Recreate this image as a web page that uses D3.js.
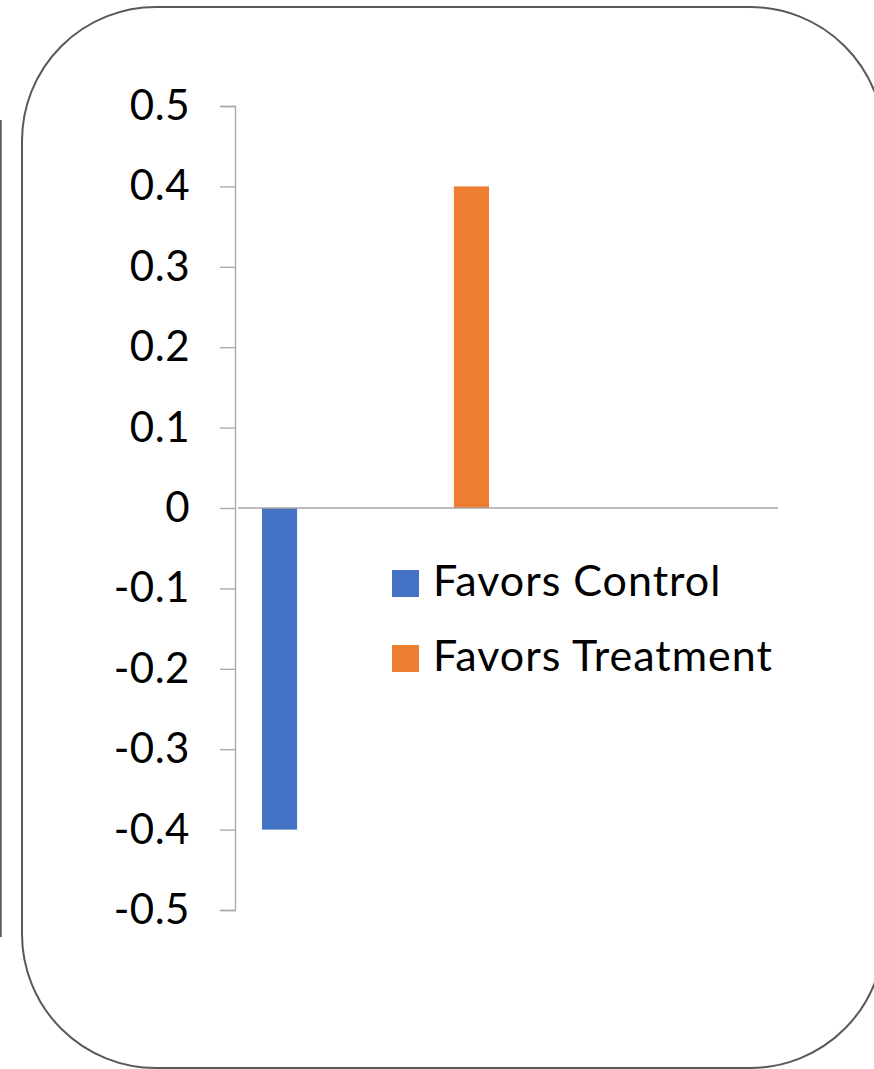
<!DOCTYPE html>
<html>
<head>
<meta charset="utf-8">
<script src="https://cdn.jsdelivr.net/npm/d3@7"></script>
<style>
  html, body { margin: 0; padding: 0; background: #fff; }
  svg { display: block; }
</style>
</head>
<body>
<svg id="chart" width="874" height="1069"></svg>
<script>
// Series and axis values
const categories = ["Favors Control", "Favors Treatment"];
const values = [-0.4, 0.4];
const colors = ["#4472C4", "#ED7D31"];
const tickValues = [0.5, 0.4, 0.3, 0.2, 0.1, 0, -0.1, -0.2, -0.3, -0.4, -0.5];
const tickLabels = ["0.5", "0.4", "0.3", "0.2", "0.1", "0", "-0.1", "-0.2", "-0.3", "-0.4", "-0.5"];

const svg = d3.select("#chart");
const font = "Lato, 'Open Sans', sans-serif";

// Neighbouring panel edge at the far left
svg.append("line")
  .attr("x1", 0.8).attr("x2", 0.8)
  .attr("y1", 120).attr("y2", 937)
  .attr("stroke", "#595959").attr("stroke-width", 1.8);

// Rounded frame around the chart
svg.append("rect")
  .attr("x", 22).attr("y", 7)
  .attr("width", 862).attr("height", 1061)
  .attr("rx", 134).attr("ry", 134)
  .attr("fill", "none")
  .attr("stroke", "#595959")
  .attr("stroke-width", 2);

// Plot area
const plot = { left: 235, right: 778, top: 106, bottom: 910 };

const y = d3.scaleLinear()
  .domain([-0.5, 0.5])
  .range([plot.bottom, plot.top]);

const x = d3.scaleBand()
  .domain(categories)
  .range([262, 489])
  .paddingInner(0.817)
  .paddingOuter(0);

// Value axis
const yAxis = d3.axisLeft(y)
  .tickValues(tickValues)
  .tickSize(15)
  .tickPadding(30)
  .tickFormat((d, i) => tickLabels[i]);

const axisG = svg.append("g")
  .attr("transform", `translate(${plot.left},0)`)
  .call(yAxis);
axisG.select(".domain")
  .attr("stroke", "#a6a6a6").attr("stroke-width", 1.3);
axisG.selectAll(".tick line")
  .attr("stroke", "#a6a6a6").attr("stroke-width", 1.3);
axisG.selectAll(".tick text")
  .attr("fill", "#000")
  .style("font-family", font)
  .style("font-size", "42px")
  .style("letter-spacing", "0.5px");

// Bars
svg.append("g").selectAll("rect")
  .data(categories)
  .join("rect")
  .attr("x", d => x(d))
  .attr("width", x.bandwidth())
  .attr("y", (d, i) => y(Math.max(0, values[i])))
  .attr("height", (d, i) => Math.abs(y(values[i]) - y(0)))
  .attr("fill", (d, i) => colors[i]);

// Zero baseline
svg.append("line")
  .attr("x1", plot.left + 3).attr("x2", plot.right)
  .attr("y1", y(0)).attr("y2", y(0))
  .attr("stroke", "#a6a6a6").attr("stroke-width", 1.6);

// Legend
const legend = svg.append("g").attr("transform", "translate(392,570)");
const items = legend.selectAll("g")
  .data(categories)
  .join("g")
  .attr("transform", (d, i) => `translate(0,${i * 75})`);
items.append("rect")
  .attr("width", 27).attr("height", 27)
  .attr("fill", (d, i) => colors[i]);
items.append("text")
  .attr("x", 41).attr("y", 26)
  .attr("fill", "#000")
  .style("font-family", font)
  .style("font-size", "43px")
  .style("letter-spacing", "1px")
  .text(d => d);
</script>
</body>
</html>
